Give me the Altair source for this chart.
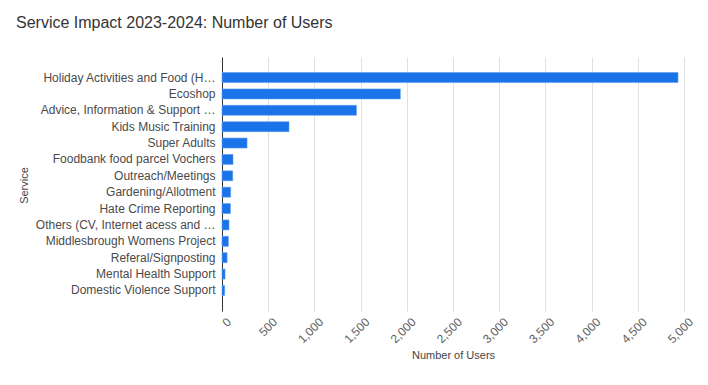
import altair as alt
import pandas as pd

services = [
    "Holiday Activities and Food (H…",
    "Ecoshop",
    "Advice, Information & Support …",
    "Kids Music Training",
    "Super Adults",
    "Foodbank food parcel Vochers",
    "Outreach/Meetings",
    "Gardening/Allotment",
    "Hate Crime Reporting",
    "Others (CV, Internet acess and …",
    "Middlesbrough Womens Project",
    "Referal/Signposting",
    "Mental Health Support",
    "Domestic Violence Support",
]
users = [4935, 1930, 1455, 725, 271, 119, 116, 94, 91, 76, 69, 55, 33, 29]
x_ticks = [0, 500, 1000, 1500, 2000, 2500, 3000, 3500, 4000, 4500, 5000]

df = pd.DataFrame({"Service": services, "Users": users})

FONT = "Liberation Sans"

chart = (
    alt.Chart(df)
    .mark_bar(color="#1a73e8", stroke="#5e9cf0", strokeWidth=0.6)
    .encode(
        x=alt.X(
            "Users:Q",
            scale=alt.Scale(domain=[0, 5000], nice=False),
            axis=alt.Axis(
                title="Number of Users",
                values=x_ticks,
                format=",.0f",
                labelAngle=-45,
                labelAlign="right",
                labelBaseline="top",
                labelPadding=5,
                labelOffset=3,
                labelFontSize=12,
                labelColor="#5f5f5f",
                labelFont=FONT,
                domain=False,
                ticks=False,
                grid=True,
                gridColor="#e0e0e0",
                titleFont=FONT,
                titleFontSize=11,
                titleFontWeight="normal",
                titleColor="#444444",
                titleY=47,
                titleBaseline="alphabetic",
            ),
        ),
        y=alt.Y(
            "Service:N",
            sort=services,
            scale=alt.Scale(paddingInner=0.39, paddingOuter=0.95),
            axis=alt.Axis(
                title="Service",
                labelFontSize=12,
                labelColor="#4a4a4a",
                labelFont=FONT,
                labelPadding=7,
                labelLimit=300,
                ticks=False,
                domain=True,
                domainColor="#333333",
                grid=False,
                titleFont=FONT,
                titleFontSize=11,
                titleFontWeight="normal",
                titleColor="#444444",
                titleAngle=-90,
                titleX=-195,
                titleY=128,
                titleAlign="center",
                titleBaseline="alphabetic",
            ),
        ),
    )
    .properties(
        width=462,
        height=254,
        autosize=alt.AutoSizeParams(type="none"),
        padding={"left": 214, "top": 49, "right": 14, "bottom": 60},
        title=alt.TitleParams(
            "Service Impact 2023-2024: Number of Users",
            anchor="start",
            frame="group",
            font=FONT,
            fontSize=16,
            fontWeight="normal",
            color="#333333",
            dx=-206,
            offset=26,
        ),
    )
    .configure_view(stroke=None)
)

chart.save("out.html", embed_options={"renderer": "svg", "actions": False})
